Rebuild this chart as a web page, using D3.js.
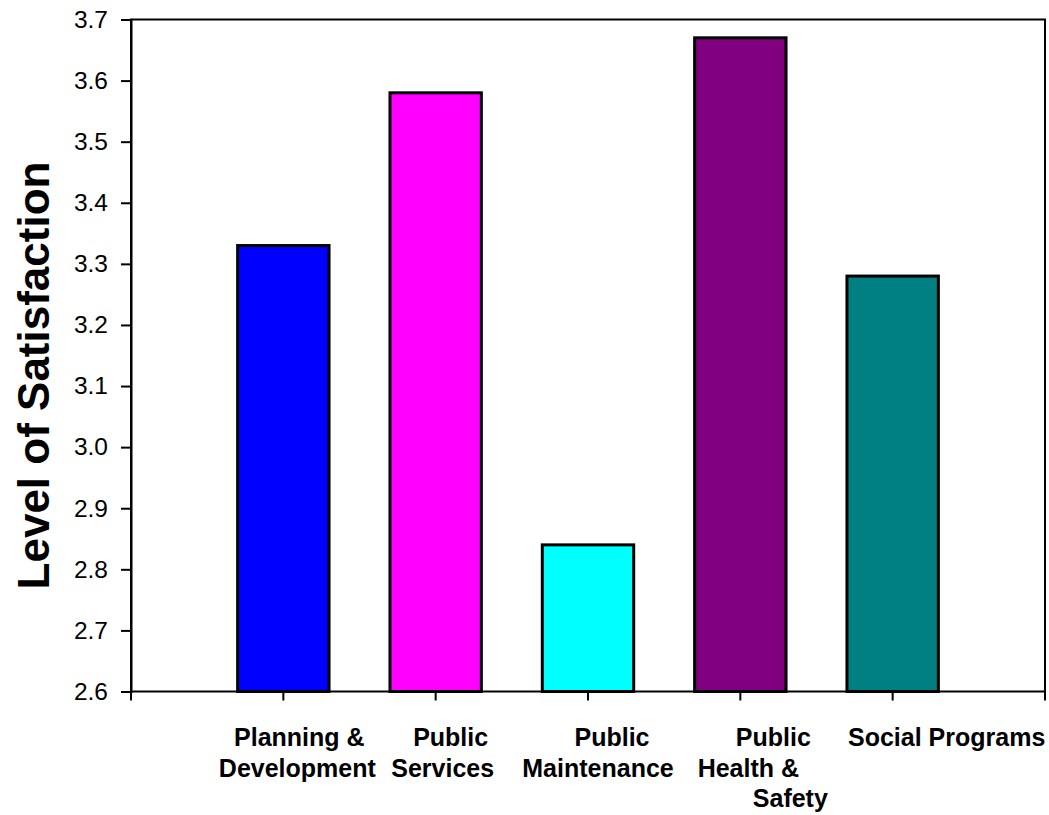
<!DOCTYPE html>
<html>
<head>
<meta charset="utf-8">
<script src="https://cdn.jsdelivr.net/npm/d3@7/dist/d3.min.js"></script>
<style>
  html, body { margin: 0; padding: 0; background: #fff; }
  svg { display: block; }
  text { font-family: "Liberation Sans", Arial, sans-serif; fill: #000; }
</style>
</head>
<body>
<svg id="chart" width="1049" height="815"></svg>
<script>
// ---- data ----
const categories = ["Planning & Development", "Public Services", "Public Maintenance", "Public Health & Safety", "Social Programs"];
const values = [3.33, 3.58, 2.84, 3.67, 3.28];
const barColors = ["#0000FF", "#FF00FF", "#00FFFF", "#800080", "#008080"];
const labelLines = [["Planning &", "Development"], ["Public", "Services"], ["Public", "Maintenance"], ["Public", "Health &", "Safety"], ["Social Programs"]];
const yTicks = [2.6, 2.7, 2.8, 2.9, 3.0, 3.1, 3.2, 3.3, 3.4, 3.5, 3.6, 3.7];
const yTitle = "Level of Satisfaction";

// ---- layout (not data) ----
const plot = { left: 131, right: 1045, top: 19.5, bottom: 691.5 };
const labelDx = [[16, 14], [15, 7], [24, 10], [33, 8, 50], [54]];

const svg = d3.select("#chart");

const x = d3.scalePoint().domain(categories).range([plot.left, plot.right]).padding(1);
const y = d3.scaleLinear().domain([2.6, 3.7]).range([plot.bottom, plot.top]);
const barW = x.step() * 0.6;

// bars
svg.append("g").selectAll("rect").data(categories).join("rect")
  .attr("x", d => x(d) - barW / 2)
  .attr("y", (d, i) => y(values[i]))
  .attr("width", barW)
  .attr("height", (d, i) => y(2.6) - y(values[i]))
  .attr("fill", (d, i) => barColors[i])
  .attr("stroke", "#000")
  .attr("stroke-width", 3);

// frame
svg.append("rect")
  .attr("x", plot.left).attr("y", plot.top)
  .attr("width", plot.right - plot.left).attr("height", plot.bottom - plot.top)
  .attr("fill", "none").attr("stroke", "#000").attr("stroke-width", 2);

// y axis
const yAxis = svg.append("g")
  .attr("transform", `translate(${plot.left},0)`)
  .call(d3.axisLeft(y).tickValues(yTicks).tickFormat(d3.format(".1f")).tickSize(10).tickPadding(13));
yAxis.select(".domain").attr("stroke-width", 2);
yAxis.selectAll(".tick line").attr("stroke-width", 2);
yAxis.selectAll(".tick text")
  .style("font-family", '"Liberation Sans", Arial, sans-serif')
  .style("font-size", "24.5px").attr("fill", "#000");

// x axis ticks (category points + both ends)
const xTickPos = [plot.left, ...categories.map(c => x(c)), plot.right];
svg.append("g").selectAll("line").data(xTickPos).join("line")
  .attr("x1", d => d).attr("x2", d => d)
  .attr("y1", plot.bottom).attr("y2", plot.bottom + 9)
  .attr("stroke", "#000").attr("stroke-width", 2);

// x labels
const lab = svg.append("g");
categories.forEach((c, i) => {
  labelLines[i].forEach((line, j) => {
    lab.append("text")
      .attr("x", x(c) + labelDx[i][j])
      .attr("y", 746 + j * 30.5)
      .attr("text-anchor", "middle")
      .style("font-size", "25px")
      .style("font-weight", "bold")
      .text(line);
  });
});

// y title
svg.append("text")
  .attr("transform", `translate(49,${(plot.top + plot.bottom) / 2 + 20}) rotate(-90)`)
  .attr("text-anchor", "middle")
  .style("font-size", "44px")
  .style("font-weight", "bold")
  .text(yTitle);
</script>
</body>
</html>
